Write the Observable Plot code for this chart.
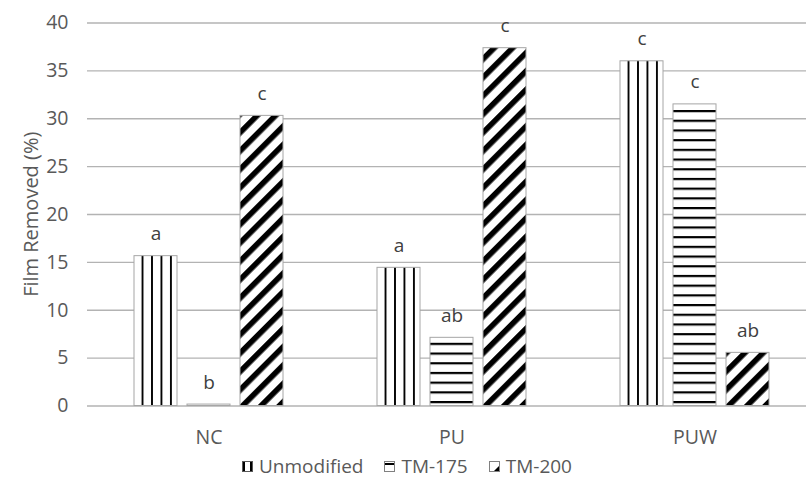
<!DOCTYPE html>
<html>
<head>
<meta charset="utf-8">
<script src="https://cdn.jsdelivr.net/npm/d3@7"></script>
<script src="https://cdn.jsdelivr.net/npm/@observablehq/plot@0.6"></script>
<style>
  html, body { margin: 0; padding: 0; background: #fff; }
  #wrap { position: relative; width: 806px; height: 490px; overflow: hidden; font-family: "Open Sans", Lato, sans-serif; }
  #chart { position: absolute; left: 0; top: 0; width: 817px; }
  #chart svg { max-width: none !important; }
  #legend { position: absolute; left: 4px; top: 453px; width: 806px; display: flex; justify-content: center; align-items: center; gap: 21px; font-size: 19px; color: #595959; }
  #legend .item { display: flex; align-items: center; gap: 6px; }
  #legend svg { display: block; }
</style>
</head>
<body>
<div id="wrap">
  <div id="chart"></div>
  <div id="legend"></div>
</div>
<script>
const groups = ["NC", "PU", "PUW"];
const series = ["Unmodified", "TM-175", "TM-200"];
const unmodified = [15.65, 14.43, 36.0];
const tm175 = [0.15, 7.12, 31.5];
const tm200 = [30.3, 37.37, 5.55];
const letters = {
  "Unmodified": ["a", "a", "c"],
  "TM-175": ["b", "ab", "c"],
  "TM-200": ["c", "c", "ab"]
};
const yTicks = [0, 5, 10, 15, 20, 25, 30, 35, 40];

const valuesBySeries = {"Unmodified": unmodified, "TM-175": tm175, "TM-200": tm200};
const data = [];
groups.forEach((g, i) => {
  series.forEach(s => {
    data.push({group: g, series: s, value: valuesBySeries[s][i], letter: letters[s][i]});
  });
});

const fills = ["url(#pUnmod)", "url(#pTM175)", "url(#pTM200)"];

const chart = Plot.plot({
  width: 817,
  height: 450,
  marginLeft: 86,
  marginRight: 0,
  marginTop: 22,
  marginBottom: 44.5,
  style: {fontFamily: "'Open Sans', Lato, sans-serif", fontSize: "19.5px", color: "#595959", background: "#fff", maxWidth: "none"},
  fx: {domain: groups, padding: 0, label: null, axis: "bottom", tickSize: 0, tickPadding: 24},
  x: {domain: series, paddingInner: 0.194, paddingOuter: 0.852, axis: null},
  y: {domain: [0, 40], range: [405.5, 22.5], ticks: yTicks, tickSize: 0, tickPadding: 19, label: "Film Removed (%)", labelAnchor: "center", labelOffset: 64, labelArrow: "none", tickFormat: d => d},
  color: {domain: series, range: fills},
  marks: [
    Plot.ruleY(yTicks.filter(d => d > 0), {stroke: "#b3b3b3", strokeWidth: 1.3}),
    Plot.ruleY([0], {stroke: "#b3b3b3", strokeWidth: 1.3}),
    Plot.barY(data, {fx: "group", x: "series", y: "value", fill: "series", stroke: "#a6a6a6", strokeWidth: 1}),
    Plot.text(data, {fx: "group", x: "series", y: "value", text: "letter", lineAnchor: "bottom", dy: -16, fill: "#404040", fontSize: 19})
  ]
});

const svg = d3.select(chart);
svg.selectAll("g[aria-label='y-axis label'] text").style("font-size", "20px");
const defs = svg.insert("defs", ":first-child");
// vertical lines
const p1 = defs.append("pattern").attr("id", "pUnmod").attr("patternUnits", "objectBoundingBox")
  .attr("x", 0).attr("y", 0).attr("width", 0.22).attr("height", 1);
p1.append("rect").attr("x", 0).attr("y", 0).attr("width", 20).attr("height", 1000).attr("fill", "#fff");
p1.append("rect").attr("x", 7.6).attr("y", 0).attr("width", 2.2).attr("height", 1000).attr("fill", "#000");
// horizontal lines
const p2 = defs.append("pattern").attr("id", "pTM175").attr("patternUnits", "userSpaceOnUse")
  .attr("x", 0).attr("y", 401).attr("width", 20).attr("height", 9.7);
p2.append("rect").attr("x", 0).attr("y", 0).attr("width", 20).attr("height", 9.7).attr("fill", "#fff");
p2.append("rect").attr("x", 0).attr("y", 0).attr("width", 20).attr("height", 2.2).attr("fill", "#000");
// wide upward diagonal
const p3 = defs.append("pattern").attr("id", "pTM200").attr("patternUnits", "userSpaceOnUse")
  .attr("x", 0).attr("y", 0).attr("width", 13).attr("height", 13).attr("patternTransform", "rotate(45)");
p3.append("rect").attr("x", 0).attr("y", 0).attr("width", 13).attr("height", 13).attr("fill", "#fff");
p3.append("rect").attr("x", 0).attr("y", 0).attr("width", 5.6).attr("height", 13).attr("fill", "#000");

document.getElementById("chart").appendChild(chart);

// legend
const legend = d3.select("#legend");
const swatchDraw = [
  g => { // unmodified
    g.append("rect").attr("x", 0.5).attr("y", 0.5).attr("width", 10).attr("height", 10).attr("fill", "#fff").attr("stroke", "#595959");
    g.append("rect").attr("x", 1).attr("y", 1).attr("width", 2).attr("height", 9).attr("fill", "#000");
    g.append("rect").attr("x", 8).attr("y", 1).attr("width", 2).attr("height", 9).attr("fill", "#000");
  },
  g => { // TM-175
    g.append("rect").attr("x", 0.5).attr("y", 0.5).attr("width", 10).attr("height", 10).attr("fill", "#fff").attr("stroke", "#808080");
    g.append("rect").attr("x", 1).attr("y", 2).attr("width", 9).attr("height", 2).attr("fill", "#000");
  },
  g => { // TM-200
    g.append("rect").attr("x", 0.5).attr("y", 0.5).attr("width", 10).attr("height", 10).attr("fill", "#fff").attr("stroke", "#808080");
    g.append("path").attr("d", "M10,5 L10,10 L5,10 Z").attr("fill", "#000");
  }
];
series.forEach((s, i) => {
  const item = legend.append("div").attr("class", "item");
  const sw = item.append("svg").attr("width", 11).attr("height", 11);
  swatchDraw[i](sw);
  item.append("span").text(s);
});
</script>
</body>
</html>
